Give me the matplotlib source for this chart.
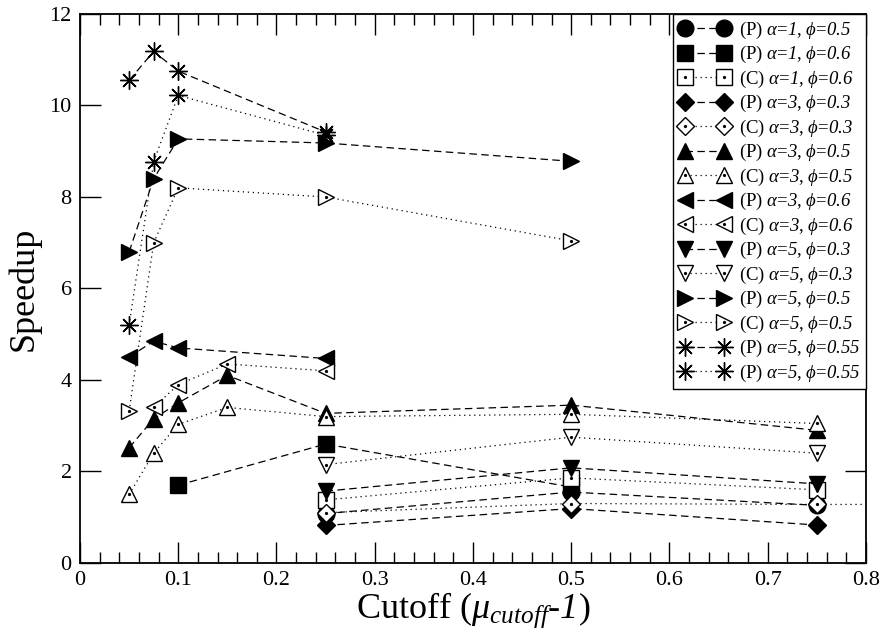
import matplotlib
matplotlib.use("Agg")
import matplotlib.pyplot as plt
from matplotlib.legend_handler import HandlerTuple
from matplotlib.ticker import MultipleLocator

plt.rcParams["font.family"] = ["Liberation Serif", "DejaVu Serif"]
plt.rcParams["mathtext.fontset"] = "custom"
plt.rcParams["mathtext.rm"] = "Liberation Serif"
plt.rcParams["mathtext.it"] = "Liberation Serif:italic"
plt.rcParams["mathtext.cal"] = "Liberation Serif:italic"

# cutoff values and speedups per series
x_a1_p05 = [0.25, 0.5, 0.75]
y_a1_p05 = [1.08, 1.55, 1.26]
x_a1_p06 = [0.1, 0.25, 0.5]
y_a1_p06 = [1.7, 2.6, 1.66]
x_a1_c06 = [0.25, 0.5, 0.75]
y_a1_c06 = [1.38, 1.86, 1.6]
x_a3_p03 = [0.25, 0.5, 0.75]
y_a3_p03 = [0.82, 1.19, 0.83]
x_a3_c03 = [0.25, 0.5, 0.75, 1.0]
y_a3_c03 = [1.1, 1.3, 1.28, 1.28]
x_a3_p05 = [0.05, 0.075, 0.1, 0.15, 0.25, 0.5, 0.75]
y_a3_p05 = [2.52, 3.15, 3.5, 4.1, 3.27, 3.45, 2.9]
x_a3_c05 = [0.05, 0.075, 0.1, 0.15, 0.25, 0.5, 0.75]
y_a3_c05 = [1.5, 2.4, 3.03, 3.4, 3.2, 3.25, 3.05]
x_a3_p06 = [0.05, 0.075, 0.1, 0.25]
y_a3_p06 = [4.5, 4.85, 4.7, 4.47]
x_a3_c06 = [0.075, 0.1, 0.15, 0.25]
y_a3_c06 = [3.4, 3.9, 4.35, 4.2]
x_a5_p03 = [0.25, 0.5, 0.75]
y_a5_p03 = [1.57, 2.08, 1.73]
x_a5_c03 = [0.25, 0.5, 0.75]
y_a5_c03 = [2.15, 2.75, 2.4]
x_a5_p05 = [0.05, 0.075, 0.1, 0.25, 0.5]
y_a5_p05 = [6.8, 8.4, 9.27, 9.18, 8.78]
x_a5_c05 = [0.05, 0.075, 0.1, 0.25, 0.5]
y_a5_c05 = [3.32, 7.0, 8.2, 8.0, 7.04]
x_a5_p055a = [0.05, 0.075, 0.1, 0.25]
y_a5_p055a = [10.55, 11.18, 10.75, 9.42]
x_a5_p055b = [0.05, 0.075, 0.1, 0.25]
y_a5_p055b = [5.2, 8.77, 10.22, 9.35]


def lab(kind, a, phi):
    # "(P)" upright, the parameters in italics
    return (r"(%s) $\mathcal{\alpha}$=$\mathcal{%s}$, $\mathcal{\phi}$=$\mathcal{%s}$"
            % (kind, a, phi))


ASTER = (8, 2, 0)
DASH = (0, (6, 3.5))
DOT = (0, (1, 3))

series = [
    (x_a1_p05, y_a1_p05, "o", True, DASH, lab("P", "1", "0.5"), 12),
    (x_a1_p06, y_a1_p06, "s", True, DASH, lab("P", "1", "0.6"), 11),
    (x_a1_c06, y_a1_c06, "s", False, DOT, lab("C", "1", "0.6"), 11),
    (x_a3_p03, y_a3_p03, "D", True, DASH, lab("P", "3", "0.3"), 9.5),
    (x_a3_c03, y_a3_c03, "D", False, DOT, lab("C", "3", "0.3"), 9.5),
    (x_a3_p05, y_a3_p05, "^", True, DASH, lab("P", "3", "0.5"), 12),
    (x_a3_c05, y_a3_c05, "^", False, DOT, lab("C", "3", "0.5"), 12),
    (x_a3_p06, y_a3_p06, "<", True, DASH, lab("P", "3", "0.6"), 12),
    (x_a3_c06, y_a3_c06, "<", False, DOT, lab("C", "3", "0.6"), 12),
    (x_a5_p03, y_a5_p03, "v", True, DASH, lab("P", "5", "0.3"), 12),
    (x_a5_c03, y_a5_c03, "v", False, DOT, lab("C", "5", "0.3"), 12),
    (x_a5_p05, y_a5_p05, ">", True, DASH, lab("P", "5", "0.5"), 12),
    (x_a5_c05, y_a5_c05, ">", False, DOT, lab("C", "5", "0.5"), 12),
    (x_a5_p055a, y_a5_p055a, ASTER, True, DASH, lab("P", "5", "0.55"), 13),
    (x_a5_p055b, y_a5_p055b, ASTER, True, DOT, lab("P", "5", "0.55"), 13),
]

fig = plt.figure(figsize=(8.84, 6.35), dpi=100)
ax = fig.add_axes([0.0905, 0.1134, 0.889, 0.8646])

handles = []
labels = []
for xs, ys, mk, filled, ls, text, ms in series:
    line, = ax.plot(xs, ys, color="black", linestyle=ls, linewidth=0.9,
                    marker=mk, markersize=ms, markeredgewidth=1.0,
                    markerfacecolor="black" if filled else "white",
                    markeredgecolor="black")
    if filled:
        handles.append(line)
    else:
        # small dot in the middle of the open symbols
        dots, = ax.plot(xs, ys, linestyle="none", marker="o", markersize=1.3,
                        color="black")
        handles.append((line, dots))
    labels.append(text)

ax.set_xlim(0, 0.8)
ax.set_ylim(0, 12)
ax.xaxis.set_minor_locator(MultipleLocator(0.02))
ax.yaxis.set_major_locator(MultipleLocator(2))
ax.set_xticks([0, 0.1, 0.2, 0.3, 0.4, 0.5, 0.6, 0.7, 0.8])
ax.set_xticklabels(["0", "0.1", "0.2", "0.3", "0.4", "0.5", "0.6", "0.7", "0.8"])
ax.tick_params(axis="x", which="major", direction="in", length=15, width=1,
               top=True, labelsize=16, pad=6)
ax.tick_params(axis="x", which="minor", direction="in", length=8, width=1, top=True)
ax.tick_params(axis="y", which="major", direction="in", length=15, width=1,
               right=True, labelsize=16, pad=6)
for sp in ax.spines.values():
    sp.set_linewidth(1.3)

ax.set_xlabel(r"Cutoff ($\mu_{\mathcal{cutoff}}$-$\mathcal{1}$)", fontsize=26, labelpad=0)
ax.set_ylabel("Speedup", fontsize=26, labelpad=6)

leg = ax.legend(handles, labels, loc="upper right", numpoints=2, fontsize=13.5,
                handler_map={tuple: HandlerTuple(ndivide=1, pad=0)},
                frameon=True, fancybox=False, framealpha=1, edgecolor="black",
                borderaxespad=0, handlelength=2.7, handletextpad=0.5,
                labelspacing=0.18, borderpad=0.3)
leg.get_frame().set_linewidth(1.0)

fig.savefig("out.png", dpi=100, facecolor="white")
